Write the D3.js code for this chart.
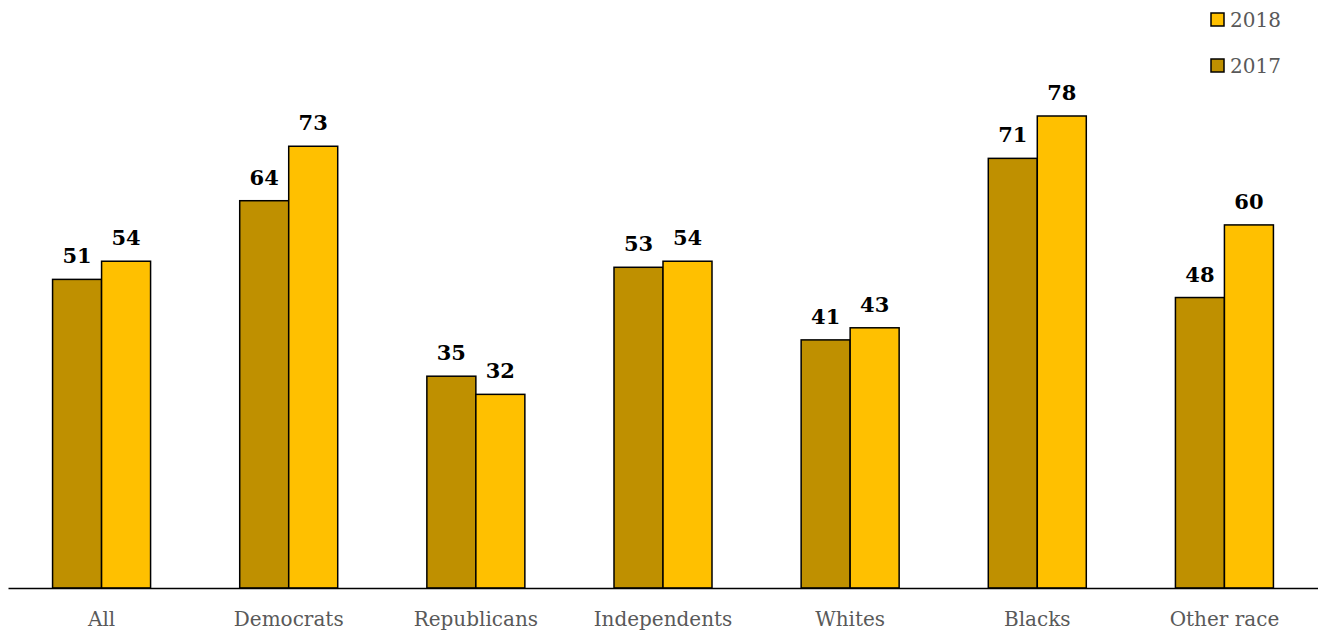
<!DOCTYPE html>
<html><head><meta charset="utf-8">
<script src="https://d3js.org/d3.v7.min.js"></script>
<style>body{margin:0;background:#fff;}svg{display:block;}</style>
</head><body>
<script>
const categories = ["All","Democrats","Republicans","Independents","Whites","Blacks","Other race"];
const values2017 = [51,64,35,53,41,71,48];
const values2018 = [54,73,32,54,43,78,60];
const seriesNames = ["2017","2018"];
const colors = {"2017":"#BF9000","2018":"#FFC000"};

const W=1318,H=632;
const svg=d3.select("body").append("svg").attr("width",W).attr("height",H);
const x=d3.scaleBand().domain(categories).range([8,1318]).paddingInner(0).paddingOuter(0);
const groupW=98;
const xs=d3.scaleBand().domain(seriesNames).range([0,groupW]);
const y=d3.scaleLinear().domain([0,78]).range([588,116]);

const data=categories.map((c,i)=>({c,vals:[{s:"2017",v:values2017[i]},{s:"2018",v:values2018[i]}]}));
const g=svg.selectAll("g.cat").data(data).join("g")
  .attr("transform",d=>`translate(${x(d.c)+x.bandwidth()/2-groupW/2},0)`);
g.selectAll("rect").data(d=>d.vals).join("rect")
  .attr("x",d=>xs(d.s)).attr("width",xs.bandwidth())
  .attr("y",d=>y(d.v)).attr("height",d=>y(0)-y(d.v))
  .attr("fill",d=>colors[d.s]).attr("stroke","#000").attr("stroke-width",1.5);
g.selectAll("text").data(d=>d.vals).join("text")
  .attr("x",d=>xs(d.s)+xs.bandwidth()/2).attr("y",d=>y(d.v)-16)
  .attr("text-anchor","middle").attr("font-family","DejaVu Serif").attr("font-weight","bold")
  .attr("font-size",21).attr("fill","#000").text(d=>d.v);

const ax=svg.append("g").attr("transform","translate(0,588)")
  .call(d3.axisBottom(x).tickSize(0).tickPadding(24));
ax.select(".domain").attr("stroke","#000").attr("stroke-width",1.5);
ax.selectAll("text").attr("font-family","DejaVu Serif").attr("font-size",20).attr("fill","#595959");

const leg=svg.append("g").selectAll("g").data(["2018","2017"]).join("g")
  .attr("transform",(d,i)=>`translate(1211,${13+i*46})`);
leg.append("rect").attr("width",13).attr("height",13).attr("fill",d=>colors[d]).attr("stroke","#000").attr("stroke-width",1.5);
leg.append("text").attr("x",19).attr("y",14).attr("font-family","DejaVu Serif").attr("font-size",20).attr("fill","#595959").text(d=>d);
</script>
</body></html>
